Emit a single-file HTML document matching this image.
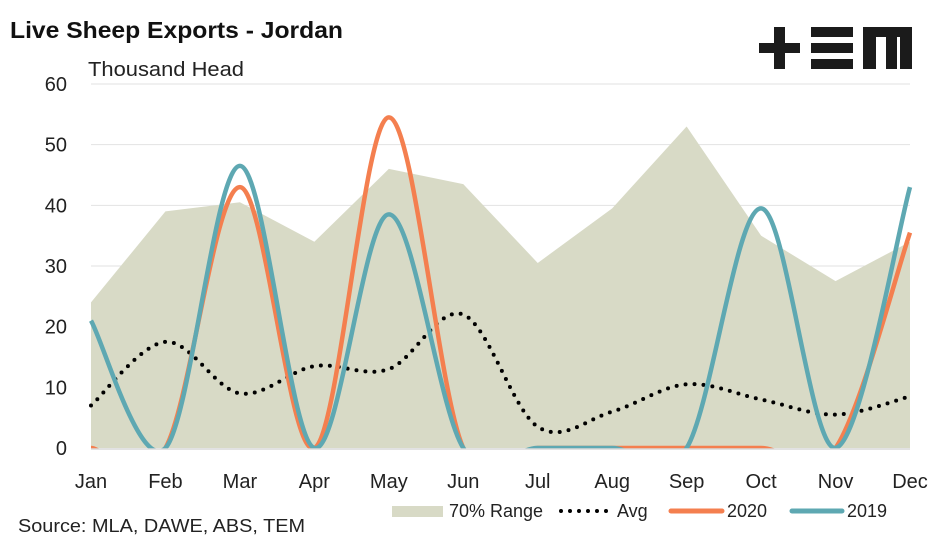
<!DOCTYPE html>
<html><head><meta charset="utf-8"><style>
body{margin:0;background:#fff;}
svg text{font-family:"Liberation Sans",sans-serif;}
</style></head><body>
<svg width="947" height="543" viewBox="0 0 947 543" xmlns="http://www.w3.org/2000/svg">
<defs><clipPath id="plotclip"><rect x="60" y="60" width="880" height="389"/></clipPath></defs>
<text x="10" y="38" font-size="23" font-weight="bold" fill="#111" textLength="333" lengthAdjust="spacingAndGlyphs">Live Sheep Exports - Jordan</text>
<text x="88" y="76" font-size="20" fill="#222" textLength="156" lengthAdjust="spacingAndGlyphs">Thousand Head</text>
<g fill="#1b1b1b">
<rect x="759" y="43" width="41" height="10"/><rect x="774" y="27" width="11" height="42"/>
<rect x="811" y="27" width="42" height="10"/><rect x="811" y="43" width="42" height="10"/><rect x="811" y="59" width="42" height="10"/>
<rect x="863" y="27" width="49" height="10"/><rect x="863" y="27" width="13" height="42"/><rect x="886" y="27" width="11" height="42"/><rect x="900" y="27" width="12" height="42"/>
</g>
<g id="grid"></g><g id="yticks"></g><g id="xticks"></g><g id="series" clip-path="url(#plotclip)"></g>
<line x1="91" y1="449" x2="910" y2="449" stroke="#d9d9d9" stroke-width="1.5"/>
<g>
<rect x="392" y="506" width="51" height="11" fill="#d8dac6"/>
<text x="449" y="517" font-size="18" fill="#222" textLength="94" lengthAdjust="spacingAndGlyphs">70% Range</text>
<line x1="561" y1="511" x2="610" y2="511" stroke="#000" stroke-width="4" stroke-linecap="round" stroke-dasharray="0 9"/>
<text x="617" y="517" font-size="18" fill="#222">Avg</text>
<line x1="671" y1="511" x2="722" y2="511" stroke="#f47f4f" stroke-width="5" stroke-linecap="round"/>
<text x="727" y="517" font-size="18" fill="#222">2020</text>
<line x1="792" y1="511" x2="842" y2="511" stroke="#5ea8b2" stroke-width="5" stroke-linecap="round"/>
<text x="847" y="517" font-size="18" fill="#222">2019</text>
</g>
<text x="18" y="532" font-size="18" fill="#222" textLength="287" lengthAdjust="spacingAndGlyphs">Source: MLA, DAWE, ABS, TEM</text>
</svg>
<script>
const months=["Jan","Feb","Mar","Apr","May","Jun","Jul","Aug","Sep","Oct","Nov","Dec"];
const yTicks=[0,10,20,30,40,50,60];
const range70=[24,39,40.5,34,46,43.5,30.5,39.5,53,35,27.5,34];
const avg=[7,17.5,9,13.5,13,22,3.5,6,10.5,8,5.5,8.5];
const s2020=[0,0,43,0,54.5,0,0,0,0,0,0,35.5];
const s2019=[21,0,46.5,0,38.5,0,0,0,0,39.5,0,43];
const NS="http://www.w3.org/2000/svg";
const X=i=>91+i*(910-91)/11;
const Y=v=>448-v*(448-84)/60;
function mk(tag,attrs,parent){const e=document.createElementNS(NS,tag);for(const k in attrs)e.setAttribute(k,attrs[k]);parent.appendChild(e);return e;}
function smooth(vals){const p=vals.map((v,i)=>[X(i),Y(v)]);let d="M"+p[0][0]+","+p[0][1];
for(let i=0;i<p.length-1;i++){const p0=p[i-1]||p[i],p1=p[i],p2=p[i+1],p3=p[i+2]||p2;
d+=" C"+(p1[0]+(p2[0]-p0[0])/6)+","+(p1[1]+(p2[1]-p0[1])/6)+" "+(p2[0]-(p3[0]-p1[0])/6)+","+(p2[1]-(p3[1]-p1[1])/6)+" "+p2[0]+","+p2[1];}return d;}
const grid=document.getElementById('grid'),yt=document.getElementById('yticks'),xt=document.getElementById('xticks'),ser=document.getElementById('series');
yTicks.forEach(t=>{
if(t>0){const l=mk('line',{x1:91,x2:910,y1:Y(t),y2:Y(t),stroke:'#e2e2e2','stroke-width':1},grid);

}
const tx=mk('text',{x:67,y:Y(t)+7,'font-size':20,fill:'#222','text-anchor':'end'},yt);tx.textContent=t;


});
months.forEach((m,i)=>{const tx=mk('text',{x:X(i),y:488,'font-size':20,fill:'#222','text-anchor':'middle'},xt);tx.textContent=m;


});
let ad="M"+X(0)+","+Y(0);range70.forEach((v,i)=>ad+=" L"+X(i)+","+Y(v));ad+=" L"+X(11)+","+Y(0)+"Z";
const area=mk('path',{d:ad,fill:'#d8dac6'},ser);


const a=mk('path',{d:smooth(avg),fill:'none',stroke:'#000','stroke-width':4,'stroke-linecap':'round','stroke-dasharray':'0 9'},ser);


const o=mk('path',{d:smooth(s2020),fill:'none',stroke:'#f47f4f','stroke-width':4.5},ser);


const b=mk('path',{d:smooth(s2019),fill:'none',stroke:'#5ea8b2','stroke-width':4.5},ser);


</script>
</body></html>
